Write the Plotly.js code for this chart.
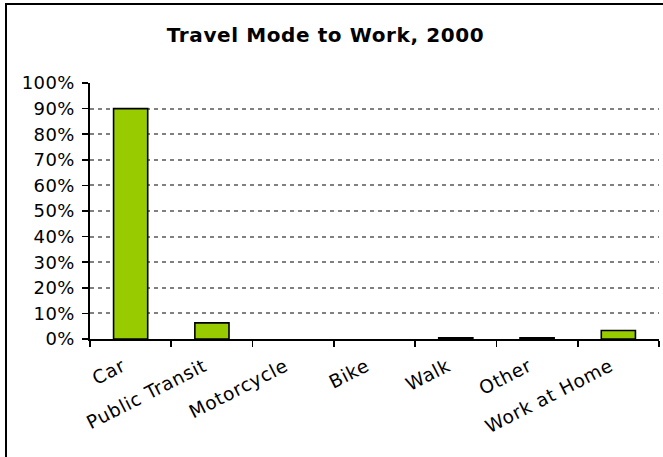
<!DOCTYPE html>
<html>
<head>
<meta charset="utf-8">
<script src="https://cdn.plot.ly/plotly-3.0.1.min.js"></script>
<style>
  html, body { margin: 0; padding: 0; background: #fff; overflow: hidden; }
  #wrap { position: relative; width: 663px; height: 457px; }
  #chart { position: absolute; left: 0; top: 0; width: 663px; height: 457px; }
  #frame { position: absolute; left: 5px; top: 3px; width: 700px; height: 500px;
           border-left: 2px solid #000; border-top: 2px solid #000; pointer-events: none; }
  #chart .gtitle { letter-spacing: 0.6px; }
  #chart .xtick text { letter-spacing: 0.7px; }
  #chart .ytick text { letter-spacing: 0.4px; }
</style>
</head>
<body>
<div id="wrap">
  <div id="chart"></div>
  <div id="frame"></div>
</div>
<script>
const categories = ["Car", "Public Transit", "Motorcycle", "Bike", "Walk", "Other", "Work at Home"];
const shares = [0.90, 0.063, 0.0, 0.0, 0.005, 0.005, 0.033];
const yTickValues = [0, 0.1, 0.2, 0.3, 0.4, 0.5, 0.6, 0.7, 0.8, 0.9, 1.0];
const yTickLabels = ["0%", "10%", "20%", "30%", "40%", "50%", "60%", "70%", "80%", "90%", "100%"];
const chartTitle = "Travel Mode to Work, 2000";

const font = "DejaVu Sans, Verdana, sans-serif";

const trace = {
  type: "bar",
  x: categories,
  y: shares,
  width: 0.42,
  marker: {
    color: "#99CC00",
    line: { color: "#000000", width: shares.map(v => (v > 0 ? 1.6 : 0)) }
  },
  hoverinfo: "skip"
};

const layout = {
  width: 663,
  height: 457,
  margin: { l: 90, r: 4, t: 83, b: 118 },
  paper_bgcolor: "#ffffff",
  plot_bgcolor: "#ffffff",
  showlegend: false,
  title: {
    text: "<b>" + chartTitle + "</b>",
    x: 0.491, xanchor: "center", xref: "container",
    y: 1 - 35 / 457, yanchor: "middle", yref: "container",
    font: { family: font, size: 20, color: "#000" }
  },
  xaxis: {
    type: "category",
    tickson: "boundaries",
    ticks: "outside",
    ticklen: 6,
    tickwidth: 1.6,
    tickcolor: "#000",
    showline: true,
    linecolor: "#000",
    linewidth: 1.6,
    showgrid: false,
    tickangle: -27,
    ticklabelshift: -8,
    ticklabelstandoff: 8,
    tickfont: { family: font, size: 18.5, color: "#000" },
    fixedrange: true
  },
  yaxis: {
    range: [0, 1.0],
    tickvals: yTickValues,
    ticktext: yTickLabels,
    ticks: "outside",
    ticklen: 6,
    tickwidth: 1.6,
    tickcolor: "#000",
    showline: true,
    linecolor: "#000",
    linewidth: 1.6,
    showgrid: true,
    gridcolor: "#808080",
    gridwidth: 2,
    griddash: "4px,4px",
    zeroline: false,
    tickfont: { family: font, size: 18, color: "#000" },
    ticklabelstandoff: 4,
    fixedrange: true
  }
};

Plotly.newPlot("chart", [trace], layout, { staticPlot: true, displayModeBar: false });
</script>
</body>
</html>
